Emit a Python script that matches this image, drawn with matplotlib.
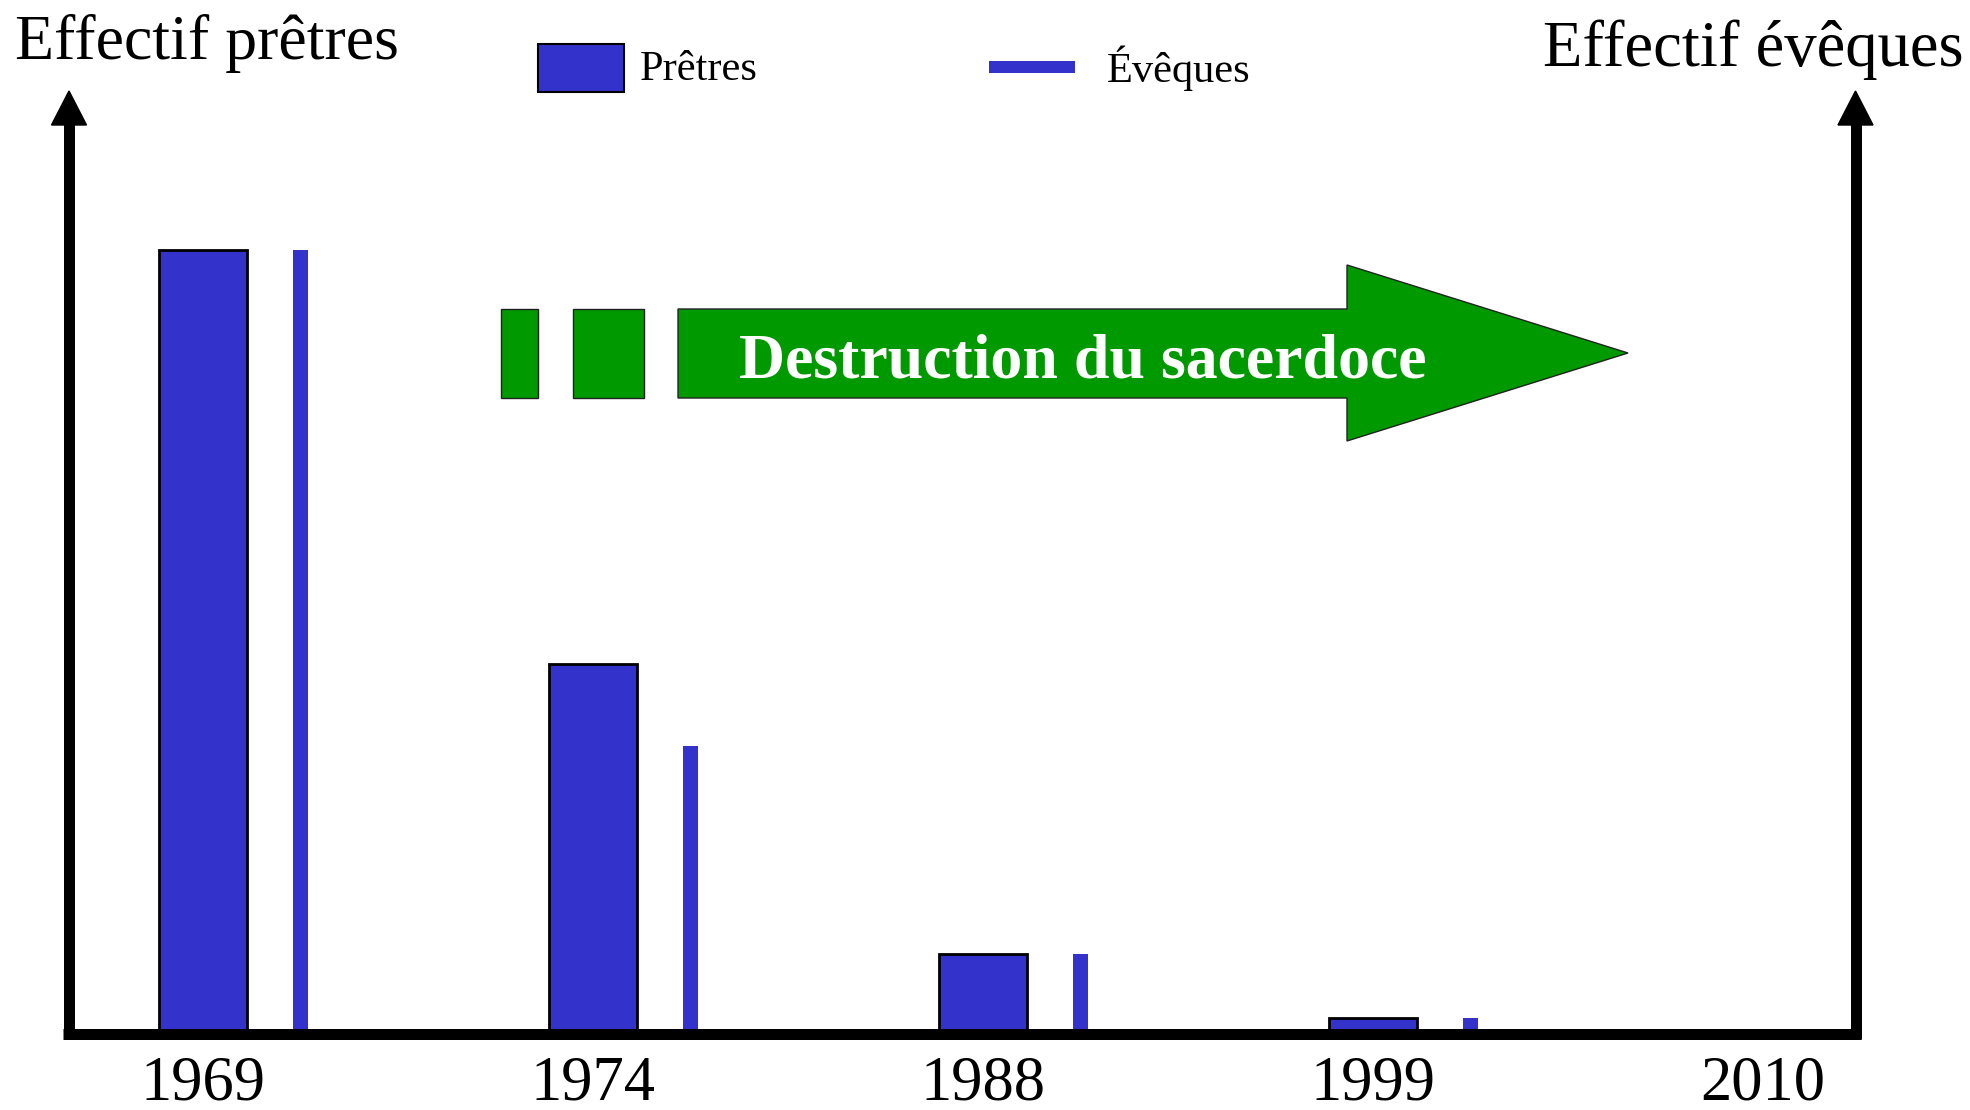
import matplotlib
matplotlib.use('Agg')
import numpy as np
import matplotlib.pyplot as plt
from matplotlib.patches import Polygon, Rectangle
from matplotlib.lines import Line2D
from matplotlib.transforms import Affine2D

# ---- data (relative heights) ----
years = ['1969', '1974', '1988', '1999', '2010']
pretres = [100, 47.1, 10.2, 2.0]
eveques = [100, 36.7, 10.1, 2.0]

BLUE = '#3333CC'
GREEN = '#009900'
SERIF = ['Liberation Serif', 'DejaVu Serif']

W, H = 1970, 1110
fig = plt.figure(figsize=(W / 100, H / 100), dpi=100)
fig.patch.set_facecolor('white')
# pixel transform (origin top-left) for decorations
px = Affine2D().scale(1 / W, -1 / H).translate(0, 1) + fig.transFigure

ax = fig.add_axes([69 / W, (H - 1033.5) / H, (1855 - 69) / W, (1033.5 - 89) / H])
ax.set_xlim(-0.3436, 4.2359)
ax.set_ylim(0, 120.5)
ax.patch.set_visible(False)

x = np.arange(len(pretres))
ax.bar(x, pretres, width=0.2256, color=BLUE, edgecolor='black', linewidth=2, zorder=2)

ax2 = ax.twinx()
ax2.set_ylim(0, 120.5)
ax2.bar(x + 0.25, eveques, width=0.041, color=BLUE, linewidth=0, zorder=2)

ax.set_xticks(range(len(years)), years)
ax.tick_params(axis='x', length=0, pad=16, labelsize=45)
for lab in ax.get_xticklabels():
    lab.set_family(SERIF)
for a in (ax, ax2):
    a.set_yticks([])
    for s in a.spines.values():
        s.set_visible(False)

# ---- axes drawn as thick arrows ----
lw = 11 * 0.72
fig.add_artist(Line2D([69, 69], [120, 1039], transform=px, color='black', lw=lw, solid_capstyle='butt'))
fig.add_artist(Line2D([1855.5, 1855.5], [120, 1039], transform=px, color='black', lw=lw, solid_capstyle='butt'))
fig.add_artist(Line2D([63, 1861], [1033.5, 1033.5], transform=px, color='black', lw=lw, solid_capstyle='butt'))
fig.add_artist(Polygon([[51.5, 125], [86.5, 125], [69, 91]], closed=True, transform=px, color='black'))
fig.add_artist(Polygon([[1838, 125], [1873, 125], [1855.5, 91]], closed=True, transform=px, color='black'))

# ---- titles ----
fig.text(15 / W, 1 - 59 / H, 'Effectif prêtres', ha='left', va='baseline',
         fontsize=46, family=SERIF)
fig.text(1964 / W, 1 - 66 / H, 'Effectif évêques', ha='right', va='baseline',
         fontsize=46.5, family=SERIF)

# ---- legend ----
fig.add_artist(Rectangle((538, 44), 86, 48, transform=px, facecolor=BLUE, edgecolor='black', lw=1.5))
fig.text(640 / W, 1 - 80 / H, 'Prêtres', ha='left', va='baseline', fontsize=30.5, family=SERIF)
fig.add_artist(Rectangle((989, 61), 86, 12, transform=px, facecolor=BLUE, edgecolor='none'))
fig.text(1107 / W, 1 - 82 / H, 'Évêques', ha='left', va='baseline', fontsize=30.5, family=SERIF)

# ---- green arrow ----
for r in [(501, 309, 37, 89), (573, 309, 71, 89)]:
    fig.add_artist(Rectangle((r[0], r[1]), r[2], r[3], transform=px, facecolor=GREEN,
                             edgecolor='#222222', lw=1))
fig.add_artist(Polygon([[678, 309], [1347, 309], [1347, 265], [1628, 353], [1347, 441],
                        [1347, 398], [678, 398]], closed=True, transform=px,
                       facecolor=GREEN, edgecolor='#222222', lw=1))
fig.text(1083 / W, 1 - 377 / H, 'Destruction du sacerdoce', ha='center', va='baseline',
         fontsize=46, fontweight='bold', color='white', family=SERIF)

fig.savefig('out.png', dpi=100, facecolor='white')
